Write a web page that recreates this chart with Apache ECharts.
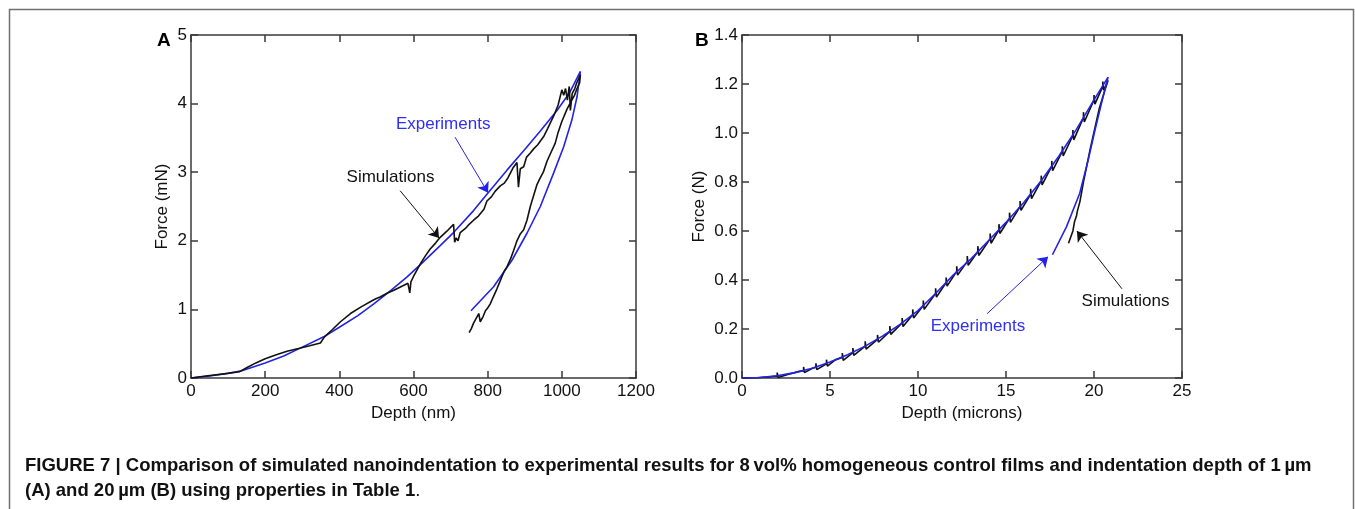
<!DOCTYPE html>
<html>
<head>
<meta charset="utf-8">
<script src="https://cdn.jsdelivr.net/npm/echarts@6/dist/echarts.min.js"></script>
<style>
html,body{margin:0;padding:0;background:#fff;}
#chart{width:1355px;height:509px;}
</style>
</head>
<body>
<div id="chart"></div>
<script>
// ---------- Panel A (depth nm, force mN) ----------
const depthA_ticks = [0, 200, 400, 600, 800, 1000, 1200];
const forceA_ticks = [0, 1, 2, 3, 4, 5];

const depthA_exp = [0, 50, 100, 133, 200, 250, 300, 358, 400, 450, 493, 540, 582, 620, 672, 708, 762, 798, 852, 900, 942, 987, 1020, 1050,
                    1041, 1027, 1005, 978, 942, 906, 866, 816, 755];
const forceA_exp = [0, 0.03, 0.07, 0.10, 0.22, 0.32, 0.45, 0.60, 0.74, 0.91, 1.08, 1.28, 1.47, 1.66, 1.93, 2.12, 2.44, 2.68, 3.03, 3.33, 3.60, 3.90, 4.15, 4.47,
                    4.10, 3.76, 3.37, 2.99, 2.50, 2.11, 1.72, 1.33, 0.98];

const depthA_sim = [0, 40, 90, 130, 150, 175, 200, 230, 259, 290, 320, 349, 360, 380, 403, 430, 460, 493, 500, 510, 530, 547, 570, 585, 590, 593, 600, 610, 618, 632, 645, 660, 672, 690, 708, 711, 715, 720, 726, 740, 750, 762, 775, 790, 798, 810, 820, 834, 845, 855, 868, 879, 883, 888, 897, 905, 915, 924, 935, 951, 962, 978, 990, 1000, 1005, 1010, 1015, 1020, 1023, 1028, 1035, 1040, 1045, 1050,
                    1048, 1041, 1034, 1027, 1020, 1014, 1000, 990, 982, 970, 960, 950, 940, 933, 925, 915, 906, 897, 888, 879, 870, 862, 852, 845, 834, 825, 815, 807, 800, 794, 788, 780, 776, 771, 766, 762, 756, 750];
const forceA_sim = [0, 0.03, 0.06, 0.09, 0.15, 0.22, 0.28, 0.34, 0.39, 0.43, 0.47, 0.51, 0.60, 0.70, 0.82, 0.94, 1.04, 1.14, 1.16, 1.18, 1.24, 1.28, 1.34, 1.38, 1.24, 1.40, 1.48, 1.58, 1.66, 1.78, 1.88, 1.97, 2.05, 2.14, 2.24, 1.98, 2.04, 2.00, 2.12, 2.18, 2.24, 2.30, 2.36, 2.46, 2.58, 2.64, 2.72, 2.80, 2.84, 2.92, 3.06, 3.14, 2.78, 3.05, 3.08, 3.22, 3.28, 3.34, 3.40, 3.52, 3.64, 3.82, 3.98, 4.20, 4.12, 4.22, 4.05, 4.25, 3.90, 4.15, 4.22, 4.30, 4.36, 4.42,
                    4.30, 4.22, 4.12, 4.05, 3.98, 3.92, 3.74, 3.58, 3.42, 3.28, 3.16, 3.00, 2.90, 2.82, 2.68, 2.50, 2.30, 2.16, 2.10, 2.00, 1.86, 1.74, 1.62, 1.56, 1.42, 1.30, 1.18, 1.08, 1.02, 0.98, 0.90, 0.82, 0.94, 0.92, 0.84, 0.80, 0.72, 0.66];

// annotation: [textX, textY, arrowFromX, arrowFromY, arrowToX, arrowToY]
const annA_exp = [680, 3.70, 712, 3.51, 801, 2.70];
const annA_sim = [538, 2.92, 564, 2.73, 669, 2.04];

// ---------- Panel B (depth microns, force N) ----------
const depthB_ticks = [0, 5, 10, 15, 20, 25];
const forceB_ticks = [0, 0.2, 0.4, 0.6, 0.8, 1.0, 1.2, 1.4];

const depthB_exp = [0, 1, 2, 3, 4, 5, 6, 7, 8, 9, 10, 11, 12, 13, 14, 15, 16, 17, 18, 19, 20, 20.8,
                    20.42, 20.05, 19.67, 19.19, 18.44, 17.64];
const forceB_exp = [0, 0.002, 0.009, 0.022, 0.04, 0.065, 0.095, 0.13, 0.172, 0.22, 0.275, 0.345, 0.42, 0.485, 0.56, 0.635, 0.715, 0.805, 0.905, 1.015, 1.135, 1.228,
                    1.12, 1.01, 0.89, 0.754, 0.618, 0.503];

const depthB_sim = [0, 0.8, 1.5, 2.0, 2.0, 2.05, 2.6, 3.2, 3.5, 3.5, 3.55, 4.0, 4.2, 4.2, 4.25, 4.8, 4.8, 4.85, 5.3, 5.7, 5.7, 5.75, 6.3, 6.3, 6.35, 7.0, 7.0, 7.05, 7.7, 7.7, 7.75, 8.4, 8.4, 8.45, 9.1, 9.1, 9.15, 9.7, 9.7, 9.75, 10.3, 10.3, 10.35, 11.0, 11.0, 11.05, 11.6, 11.6, 11.65, 12.2, 12.2, 12.25, 12.8, 12.8, 12.85, 13.4, 13.4, 13.45, 14.1, 14.1, 14.15, 14.6, 14.6, 14.65, 15.2, 15.2, 15.25, 15.8, 15.8, 15.85, 16.4, 16.4, 16.45, 17.0, 17.0, 17.05, 17.6, 17.6, 17.65, 18.2, 18.2, 18.25, 18.8, 18.8, 18.85, 19.4, 19.4, 19.45, 20.0, 20.0, 20.05, 20.5, 20.5, 20.55, 20.8,
                    20.6, 20.3, 20.05, 19.8, 19.6, 19.4, 19.2, 19.05, 19.0, 18.9, 18.8, 18.7, 18.55];
const forceB_sim = [0, 0.001, 0.004, 0.008, 0.022, 0.002, 0.014, 0.026, 0.03, 0.045, 0.022, 0.04, 0.044, 0.06, 0.034, 0.058, 0.075, 0.048, 0.074, 0.084, 0.102, 0.072, 0.104, 0.122, 0.092, 0.13, 0.15, 0.118, 0.158, 0.176, 0.146, 0.19, 0.212, 0.178, 0.225, 0.245, 0.21, 0.258, 0.28, 0.245, 0.296, 0.316, 0.28, 0.345, 0.366, 0.33, 0.39, 0.41, 0.375, 0.435, 0.456, 0.42, 0.476, 0.498, 0.46, 0.516, 0.538, 0.5, 0.568, 0.59, 0.55, 0.605, 0.628, 0.59, 0.652, 0.675, 0.635, 0.7, 0.722, 0.684, 0.75, 0.772, 0.732, 0.805, 0.826, 0.788, 0.865, 0.886, 0.846, 0.925, 0.946, 0.906, 0.99, 1.012, 0.972, 1.063, 1.085, 1.045, 1.135, 1.155, 1.118, 1.19, 1.21, 1.175, 1.215,
                    1.17, 1.10, 1.02, 0.94, 0.87, 0.80, 0.72, 0.68, 0.66, 0.64, 0.60, 0.58, 0.55];

const annB_exp = [13.41, 0.209, 13.92, 0.262, 17.39, 0.495];
const annB_sim = [21.79, 0.315, 21.59, 0.364, 19.03, 0.60];

// ---------- texts ----------
const panelLabels = ['A', 'B'];
const axisTitles = { A: ['Depth (nm)', 'Force (mN)'], B: ['Depth (microns)', 'Force (N)'] };
const captionLine1 = 'FIGURE 7 | Comparison of simulated nanoindentation to experimental results for 8\u2009vol% homogeneous control films and indentation depth of 1\u2009\u00b5m';
const captionLine2 = '(A) and 20\u2009\u00b5m (B) using properties in Table 1';

// ---------- build ----------
const zip = (xs, ys) => xs.map((x, i) => [x, ys[i]]);
const FONT = "'Liberation Sans', Arial, Helvetica, sans-serif";
const AX = '#3a3a3a';
const BLUE = '#2323e6';
const TXTBLUE = '#2f2ff2';
const FS = 17;

const grids = [
  { left: 191, top: 35, width: 445, height: 343 },
  { left: 742, top: 35, width: 440, height: 343 }
];

function xAxes(gi, ticks, title) {
  const min = ticks[0], max = ticks[ticks.length - 1], interval = ticks[1] - ticks[0];
  const common = {
    gridIndex: gi, type: 'value', min, max, interval,
    axisLine: { show: true, onZero: false, lineStyle: { color: AX, width: 1.5 } },
    axisTick: { show: true, inside: true, length: 7, lineStyle: { color: AX, width: 1.5 } },
    splitLine: { show: false }
  };
  return [
    Object.assign({}, common, {
      position: 'bottom',
      axisLabel: { show: true, margin: 5, color: '#111', fontSize: FS, fontFamily: FONT,
                   formatter: v => String(v) },
      name: title, nameLocation: 'middle', nameGap: 27,
      nameTextStyle: { color: '#111', fontSize: FS, fontFamily: FONT }
    }),
    Object.assign({}, common, { position: 'top', axisLabel: { show: false } })
  ];
}
function yAxes(gi, ticks, title, dec, gap) {
  const min = ticks[0], max = ticks[ticks.length - 1], interval = +(ticks[1] - ticks[0]).toFixed(6);
  const common = {
    gridIndex: gi, type: 'value', min, max, interval,
    axisLine: { show: true, onZero: false, lineStyle: { color: AX, width: 1.5 } },
    axisTick: { show: true, inside: true, length: 7, lineStyle: { color: AX, width: 1.5 } },
    splitLine: { show: false }
  };
  return [
    Object.assign({}, common, {
      position: 'left',
      axisLabel: { show: true, margin: 4, color: '#111', fontSize: FS, fontFamily: FONT,
                   formatter: v => v.toFixed(dec) },
      name: title, nameLocation: 'middle', nameGap: gap, nameRotate: 90,
      nameTextStyle: { color: '#111', fontSize: FS, fontFamily: FONT }
    }),
    Object.assign({}, common, { position: 'right', axisLabel: { show: false } })
  ];
}

function lineSeries(xi, data, color, z) {
  return {
    type: 'line', xAxisIndex: xi, yAxisIndex: xi, data, showSymbol: false, symbol: 'none',
    lineStyle: { color, width: 1.6 }, z, silent: true, animation: false
  };
}
function annotation(xi, ann, text, color, lineColor) {
  return [
    {
      type: 'lines', coordinateSystem: 'cartesian2d', xAxisIndex: xi, yAxisIndex: xi,
      data: [{ coords: [[ann[2], ann[3]], [ann[4], ann[5]]] }],
      symbol: ['none', 'arrow'], symbolSize: 10,
      lineStyle: { color: lineColor, width: 1, opacity: 1, curveness: 0 },
      silent: true, animation: false, z: 5
    },
    {
      type: 'scatter', xAxisIndex: xi, yAxisIndex: xi, symbol: 'circle', symbolSize: 2,
      itemStyle: { color: 'rgba(255,255,255,0)' },
      data: [{ value: [ann[0], ann[1]], name: text }],
      label: { show: true, position: 'inside', formatter: text, color, fontSize: FS, fontFamily: FONT,
               textBorderWidth: 0, textBorderColor: 'transparent', opacity: 1 },
      silent: true, animation: false, z: 6
    }
  ];
}

const option = {
  backgroundColor: '#fff',
  animation: false,
  grid: grids,
  xAxis: [...xAxes(0, depthA_ticks, axisTitles.A[0]), ...xAxes(1, depthB_ticks, axisTitles.B[0])],
  yAxis: [...yAxes(0, forceA_ticks, axisTitles.A[1], 0, 20), ...yAxes(1, forceB_ticks, axisTitles.B[1], 1, 34)],
  series: [
    lineSeries(0, zip(depthA_exp, forceA_exp), BLUE, 2),
    lineSeries(0, zip(depthA_sim, forceA_sim), '#111', 3),
    ...annotation(0, annA_exp, 'Experiments', TXTBLUE, BLUE),
    ...annotation(0, annA_sim, 'Simulations', '#111', '#111'),
    lineSeries(2, zip(depthB_sim, forceB_sim), '#111', 2),
    lineSeries(2, zip(depthB_exp, forceB_exp), BLUE, 3),
    ...annotation(2, annB_exp, 'Experiments', TXTBLUE, BLUE),
    ...annotation(2, annB_sim, 'Simulations', '#111', '#111')
  ],
  graphic: [
    { type: 'rect', shape: { x: 9.5, y: 9.5, width: 1344, height: 520 }, style: { fill: 'none', stroke: '#707070', lineWidth: 1.5 }, silent: true },
    { type: 'text', left: 157, top: 31, style: { text: panelLabels[0], font: "bold 19px " + FONT, fill: '#000' } },
    { type: 'text', left: 695, top: 31, style: { text: panelLabels[1], font: "bold 19px " + FONT, fill: '#000' } },
    { type: 'text', left: 25, top: 456, style: { text: captionLine1, font: "bold 18.5px " + FONT, fill: '#111' } },
    { type: 'text', left: 25, top: 481, style: {
        text: '{b|' + captionLine2 + '}{n|.}',
        rich: { b: { font: "bold 18.5px " + FONT, fill: '#111' }, n: { font: "18.5px " + FONT, fill: '#111' } }
      } }
  ]
};

const chart = echarts.init(document.getElementById('chart'), null, { renderer: 'canvas' });
chart.setOption(option);
</script>
</body>
</html>
